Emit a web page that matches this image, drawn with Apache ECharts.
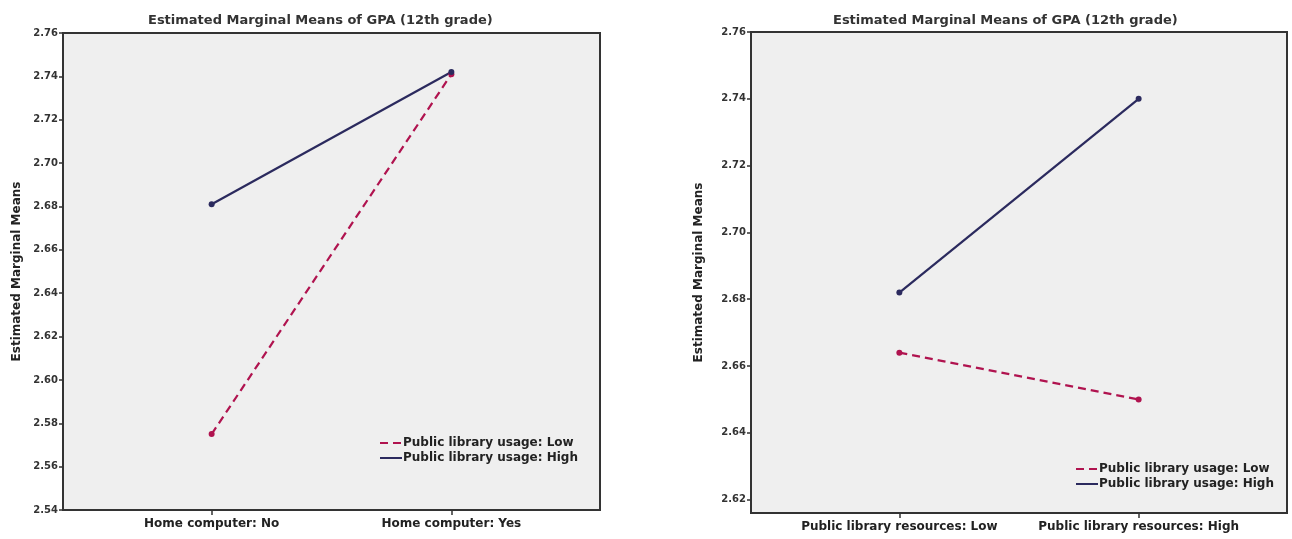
<!DOCTYPE html>
<html>
<head>
    <meta charset="utf-8">
    <script src="https://cdn.jsdelivr.net/npm/echarts@6/dist/echarts.min.js"></script>
    <style>
        body { margin: 0; background: #fff; }
        #main { width: 1292px; height: 539px; }
    </style>
</head>

<body>
    <div id="main"></div>

    <script type="text/javascript">
        var leftCategories = ['Home computer: No', 'Home computer: Yes'];
        var leftLow = [2.575, 2.741];
        var leftHigh = [2.681, 2.742];
        var leftTicks = [2.54, 2.56, 2.58, 2.60, 2.62, 2.64, 2.66, 2.68, 2.70, 2.72, 2.74, 2.76];

        var rightCategories = ['Public library resources: Low', 'Public library resources: High'];
        var rightLow = [2.664, 2.650];
        var rightHigh = [2.682, 2.740];
        var rightTicks = [2.62, 2.64, 2.66, 2.68, 2.70, 2.72, 2.74, 2.76];

        var seriesNames = ['Public library usage: Low', 'Public library usage: High'];
        var titleText = 'Estimated Marginal Means of GPA (12th grade)';
        var yName = 'Estimated Marginal Means';

        var lowColor = '#b0134f';
        var highColor = '#2b2a5e';
        var ink = '#333';
        var font = 'DejaVu Sans';

        var myChart = echarts.init(document.getElementById('main'), null, { renderer: 'canvas' });

        function pairs(vals) {
            return vals.map(function (v, i) { return [i, v]; });
        }

        function xAxis(idx, cats) {
            return {
                gridIndex: idx,
                type: 'value',
                min: -0.62,
                max: 1.62,
                axisLine: { show: true, onZero: false, lineStyle: { color: ink, width: 2 } },
                axisTick: { show: true, length: 5, customValues: [0, 1], lineStyle: { color: ink, width: 1.5 } },
                axisLabel: {
                    customValues: [0, 1],
                    margin: 8,
                    color: '#222',
                    fontFamily: font,
                    fontWeight: 'bold',
                    fontSize: 12,
                    formatter: function (v) { return cats[Math.round(v)]; }
                },
                splitLine: { show: false }
            };
        }

        function yAxis(idx, min, ticks) {
            return {
                gridIndex: idx,
                type: 'value',
                min: min,
                max: 2.76,
                name: yName,
                nameLocation: 'middle',
                nameGap: idx === 0 ? 40 : 46,
                nameTextStyle: { color: '#222', fontFamily: font, fontWeight: 'bold', fontSize: 12 },
                axisLine: { show: true, onZero: false, lineStyle: { color: ink, width: 2 } },
                axisTick: { show: true, length: 4, customValues: ticks, lineStyle: { color: ink, width: 1.5 } },
                axisLabel: {
                    customValues: ticks,
                    margin: 5,
                    color: '#333',
                    fontFamily: font,
                    fontWeight: 'bold',
                    fontSize: 10,
                    formatter: function (v) { return v.toFixed(2); }
                },
                splitLine: { show: false }
            };
        }

        function line(idx, name, vals, color, dashed) {
            return {
                name: name,
                type: 'line',
                xAxisIndex: idx,
                yAxisIndex: idx,
                data: pairs(vals),
                symbol: 'circle',
                symbolSize: 6,
                color: color,
                itemStyle: { color: color },
                lineStyle: { color: color, width: 2.2, type: dashed ? [8, 5] : 'solid' },
                animation: false
            };
        }

        function legend(left, top) {
            return {
                orient: 'vertical',
                left: left,
                top: top,
                itemGap: 3,
                itemWidth: 22,
                itemHeight: 14,
                itemStyle: { opacity: 0 },
                data: seriesNames,
                selectedMode: false,
                textStyle: { color: '#222', fontFamily: font, fontWeight: 'bold', fontSize: 12, padding: [0, 0, 0, -4] }
            };
        }

        myChart.setOption({
            backgroundColor: '#fff',
            animation: false,
            title: [
                { text: titleText, left: 143, top: 9, textStyle: { color: '#333', fontFamily: font, fontWeight: 'bold', fontSize: 13 } },
                { text: titleText, left: 828, top: 9, textStyle: { color: '#333', fontFamily: font, fontWeight: 'bold', fontSize: 13 } }
            ],
            legend: [legend(374, 432), legend(1070, 458)],
            grid: [
                { left: 63, top: 33, width: 537, height: 477, show: true, backgroundColor: '#efefef', borderColor: ink, borderWidth: 2 },
                { left: 751, top: 32, width: 536, height: 481, show: true, backgroundColor: '#efefef', borderColor: ink, borderWidth: 2 }
            ],
            xAxis: [xAxis(0, leftCategories), xAxis(1, rightCategories)],
            yAxis: [yAxis(0, 2.54, leftTicks), yAxis(1, 2.616, rightTicks)],
            series: [
                line(0, seriesNames[0], leftLow, lowColor, true),
                line(0, seriesNames[1], leftHigh, highColor, false),
                line(1, seriesNames[0], rightLow, lowColor, true),
                line(1, seriesNames[1], rightHigh, highColor, false)
            ]
        });
    </script>
</body>

</html>
